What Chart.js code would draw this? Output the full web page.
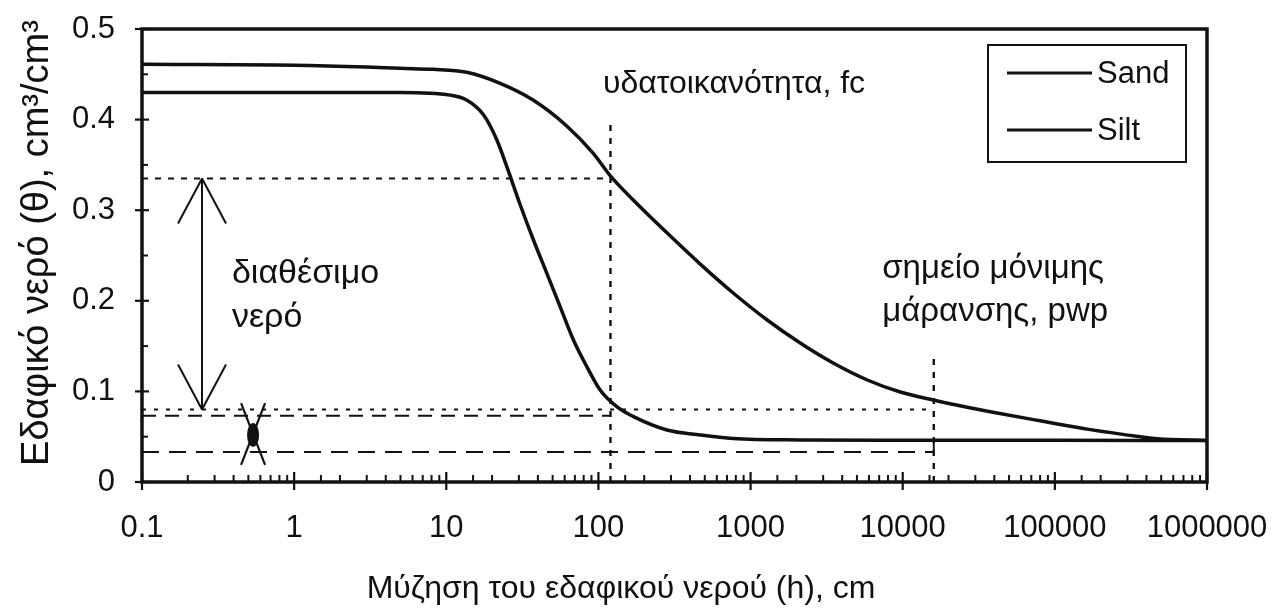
<!DOCTYPE html>
<html>
<head>
<meta charset="utf-8">
<script src="https://cdn.jsdelivr.net/npm/chart.js@4.4.0/dist/chart.umd.min.js"></script>
<style>
  html, body { margin: 0; padding: 0; background: #fff; }
  #wrap { width: 1274px; height: 611px; position: relative; }
</style>
</head>
<body>
<div id="wrap"><canvas id="chart"></canvas></div>
<script>
// suction h (cm) and water content θ
const sandH = [0.1, 1, 3, 4.97, 8.19, 13.6, 22.6, 37.2, 61.9, 92.2, 121, 170, 282, 467, 769, 1286, 2120, 3490, 5850, 9640, 15900, 26500, 37600, 80100, 171000, 365000, 471000, 1000000];
const sandTheta = [0.461, 0.460, 0.458, 0.4566, 0.4555, 0.4522, 0.440, 0.4216, 0.393, 0.363, 0.337, 0.311, 0.275, 0.2405, 0.2086, 0.1788, 0.1534, 0.1313, 0.1126, 0.0993, 0.0905, 0.0825, 0.0775, 0.0675, 0.0578, 0.0500, 0.0478, 0.0458];

const siltH = [0.1, 1, 5, 10.6, 13.6, 17.6, 21.5, 25.0, 30.6, 37.4, 45.8, 56.0, 68.5, 83.9, 102.6, 132, 170, 282, 467, 769, 2120, 10000, 100000, 1000000];
const siltTheta = [0.430, 0.430, 0.430, 0.427, 0.4216, 0.405, 0.3775, 0.348, 0.306, 0.2671, 0.2303, 0.1935, 0.1567, 0.1273, 0.1015, 0.0831, 0.0721, 0.0574, 0.0519, 0.048, 0.0464, 0.046, 0.046, 0.0458];

const seriesNames = ["Sand", "Silt"];
const yTicks = [0, 0.1, 0.2, 0.3, 0.4, 0.5];
const xTitle = "Μύζηση του εδαφικού νερού (h), cm";
const yTitle = "Εδαφικό νερό (θ), cm³/cm³";

// guide lines: field capacity and wilting point
const fcH = 120, pwpH = 16000;
const fcTheta = 0.335, pwpTheta = 0.08;
const fcTop = 0.40, pwpTop = 0.14;
const dashHiTheta = 0.073, dashLoTheta = 0.033, residualTheta = 0.046;
const arrowH = 0.248;
const crossH = 0.537, crossLo = 0.019, crossHi = 0.087, crossMid = 0.052;

const notes = [
  { lines: ["υδατοικανότητα, fc"], h: 107, theta: 0.4294, size: 32 },
  { lines: ["διαθέσιμο", "νερό"], h: 0.39, theta: 0.2196, size: 34 },
  { lines: ["σημείο μόνιμης", "μάρανσης, pwp"], h: 7330, theta: 0.2252, size: 33 }
];

const FONT = "'Liberation Sans', Arial, sans-serif";
const INK = "#111";
Chart.defaults.font.family = FONT;
Chart.defaults.color = INK;

function isDecade(v) {
  const l = Math.log10(v);
  return Math.abs(l - Math.round(l)) < 1e-6;
}

function line(ctx, x1, y1, x2, y2, width, dash) {
  ctx.save();
  ctx.lineWidth = width;
  ctx.setLineDash(dash || []);
  ctx.beginPath();
  ctx.moveTo(x1, y1);
  ctx.lineTo(x2, y2);
  ctx.stroke();
  ctx.restore();
}

const guides = {
  id: "guides",
  beforeDatasetsDraw(chart) {
    const { ctx, scales: { x, y } } = chart;
    const x0 = x.getPixelForValue(0.1);
    ctx.save();
    ctx.strokeStyle = INK;
    // fc
    line(ctx, x0, y.getPixelForValue(fcTheta), x.getPixelForValue(fcH), y.getPixelForValue(fcTheta), 2.2, [6, 7]);
    line(ctx, x.getPixelForValue(fcH), y.getPixelForValue(0), x.getPixelForValue(fcH), y.getPixelForValue(fcTop), 2.4, [6, 7]);
    // pwp
    line(ctx, x0, y.getPixelForValue(pwpTheta), x.getPixelForValue(pwpH), y.getPixelForValue(pwpTheta), 2.2, [4, 8]);
    line(ctx, x.getPixelForValue(pwpH), y.getPixelForValue(0), x.getPixelForValue(pwpH), y.getPixelForValue(pwpTop), 2.4, [6, 7]);
    // long dashes
    line(ctx, x0, y.getPixelForValue(dashHiTheta), x.getPixelForValue(fcH), y.getPixelForValue(dashHiTheta), 2, [14, 9]);
    line(ctx, x0, y.getPixelForValue(dashLoTheta), x.getPixelForValue(pwpH), y.getPixelForValue(dashLoTheta), 2, [17, 10]);
    line(ctx, x.getPixelForValue(pwpH), y.getPixelForValue(dashLoTheta), x.getPixelForValue(pwpH), y.getPixelForValue(residualTheta), 2);
    ctx.restore();
  },
  afterDatasetsDraw(chart) {
    const { ctx, chartArea: a, scales: { x, y } } = chart;
    ctx.save();
    ctx.strokeStyle = INK;
    ctx.fillStyle = INK;

    // frame
    ctx.lineWidth = 3.5;
    ctx.strokeRect(a.left, a.top, a.right - a.left, a.bottom - a.top);

    // x ticks
    x.ticks.forEach(t => {
      const px = x.getPixelForValue(t.value);
      if (isDecade(t.value)) line(ctx, px, a.bottom + 8, px, a.bottom - 10, 2.2);
      else line(ctx, px, a.bottom, px, a.bottom - 7, 2);
    });
    // y ticks, with minor ones halfway
    for (let i = 0; i < yTicks.length; i++) {
      const py = y.getPixelForValue(yTicks[i]);
      line(ctx, a.left - 7, py, a.left + 7, py, 2.2);
      if (i + 1 < yTicks.length) {
        const pm = y.getPixelForValue((yTicks[i] + yTicks[i + 1]) / 2);
        line(ctx, a.left, pm, a.left + 6, pm, 2);
      }
    }

    // available water arrow
    const ax = x.getPixelForValue(arrowH);
    const aTop = y.getPixelForValue(fcTheta), aBot = y.getPixelForValue(pwpTheta);
    line(ctx, ax, aTop, ax, aBot, 2);
    line(ctx, ax - 24, aTop + 45, ax, aTop, 2);
    line(ctx, ax + 24, aTop + 45, ax, aTop, 2);
    line(ctx, ax - 24, aBot - 45, ax, aBot, 2);
    line(ctx, ax + 24, aBot - 45, ax, aBot, 2);

    // crossed marker
    const cx = x.getPixelForValue(crossH);
    const cHi = y.getPixelForValue(crossHi), cLo = y.getPixelForValue(crossLo);
    line(ctx, cx - 12, cHi, cx + 12, cLo, 2.2);
    line(ctx, cx + 12, cHi, cx - 12, cLo, 2.2);
    ctx.beginPath();
    ctx.ellipse(cx, y.getPixelForValue(crossMid), 6, 12, 0, 0, Math.PI * 2);
    ctx.fill();

    // notes
    ctx.textAlign = "left";
    ctx.textBaseline = "alphabetic";
    notes.forEach(n => {
      ctx.font = n.size + "px " + FONT;
      const nx = x.getPixelForValue(n.h);
      const ny = y.getPixelForValue(n.theta);
      n.lines.forEach((s, i) => ctx.fillText(s, nx, ny + i * n.size * 1.3));
    });

    // axis titles
    ctx.font = "32px " + FONT;
    ctx.textAlign = "center";
    ctx.fillText(xTitle, a.left + 479, a.bottom + 116);
    ctx.save();
    ctx.translate(a.left - 104, a.top + 214);
    ctx.rotate(-Math.PI / 2);
    ctx.font = "38px " + FONT;
    ctx.textBaseline = "middle";
    ctx.fillText(yTitle, 0, 0);
    ctx.restore();

    // legend
    const bw = 198, bh = 117;
    const bx = a.right - 21 - bw, by = a.top + 16;
    ctx.lineWidth = 2;
    ctx.strokeRect(bx, by, bw, bh);
    ctx.font = "31px " + FONT;
    ctx.textAlign = "left";
    ctx.textBaseline = "middle";
    chart.data.datasets.forEach((ds, i) => {
      const ly = by + 28 + i * 57;
      ctx.strokeStyle = ds.borderColor;
      line(ctx, bx + 19, ly, bx + 104, ly, 3);
      ctx.fillText(ds.label, bx + 109, ly + 1);
    });
    ctx.restore();
  }
};

function series(hs, ts) {
  return hs.map((h, i) => ({ x: h, y: ts[i] }));
}

new Chart(document.getElementById("chart"), {
  type: "line",
  data: {
    datasets: [
      { label: seriesNames[0], data: series(sandH, sandTheta), borderColor: INK, borderWidth: 3.5, pointRadius: 0, cubicInterpolationMode: "monotone", fill: false },
      { label: seriesNames[1], data: series(siltH, siltTheta), borderColor: INK, borderWidth: 3.5, pointRadius: 0, cubicInterpolationMode: "monotone", fill: false }
    ]
  },
  options: {
    responsive: true,
    maintainAspectRatio: false,
    animation: false,
    layout: { padding: { top: 29, right: 67, left: 0, bottom: 0 } },
    plugins: { legend: { display: false }, tooltip: { enabled: false } },
    scales: {
      x: {
        type: "logarithmic",
        min: 0.1,
        max: 1000000,
        grid: { display: false, drawTicks: false },
        border: { display: false },
        ticks: {
          autoSkip: false,
          maxRotation: 0,
          padding: 28,
          color: INK,
          font: { size: 31 },
          callback: v => isDecade(v) ? (v < 1 ? String(v) : String(Math.round(v))) : ""
        },
        afterFit: s => { s.height = 129; s.paddingLeft = 0; s.paddingRight = 0; }
      },
      y: {
        min: 0,
        max: 0.5,
        grid: { display: false, drawTicks: false },
        border: { display: false },
        afterBuildTicks: s => { s.ticks = yTicks.map(v => ({ value: v })); },
        ticks: {
          padding: 27,
          color: INK,
          font: { size: 31 },
          callback: v => v === 0 ? "0" : v.toFixed(1)
        },
        afterFit: s => { s.width = 142; s.paddingTop = 0; s.paddingBottom = 0; }
      }
    }
  },
  plugins: [guides]
});
</script>
</body>
</html>
